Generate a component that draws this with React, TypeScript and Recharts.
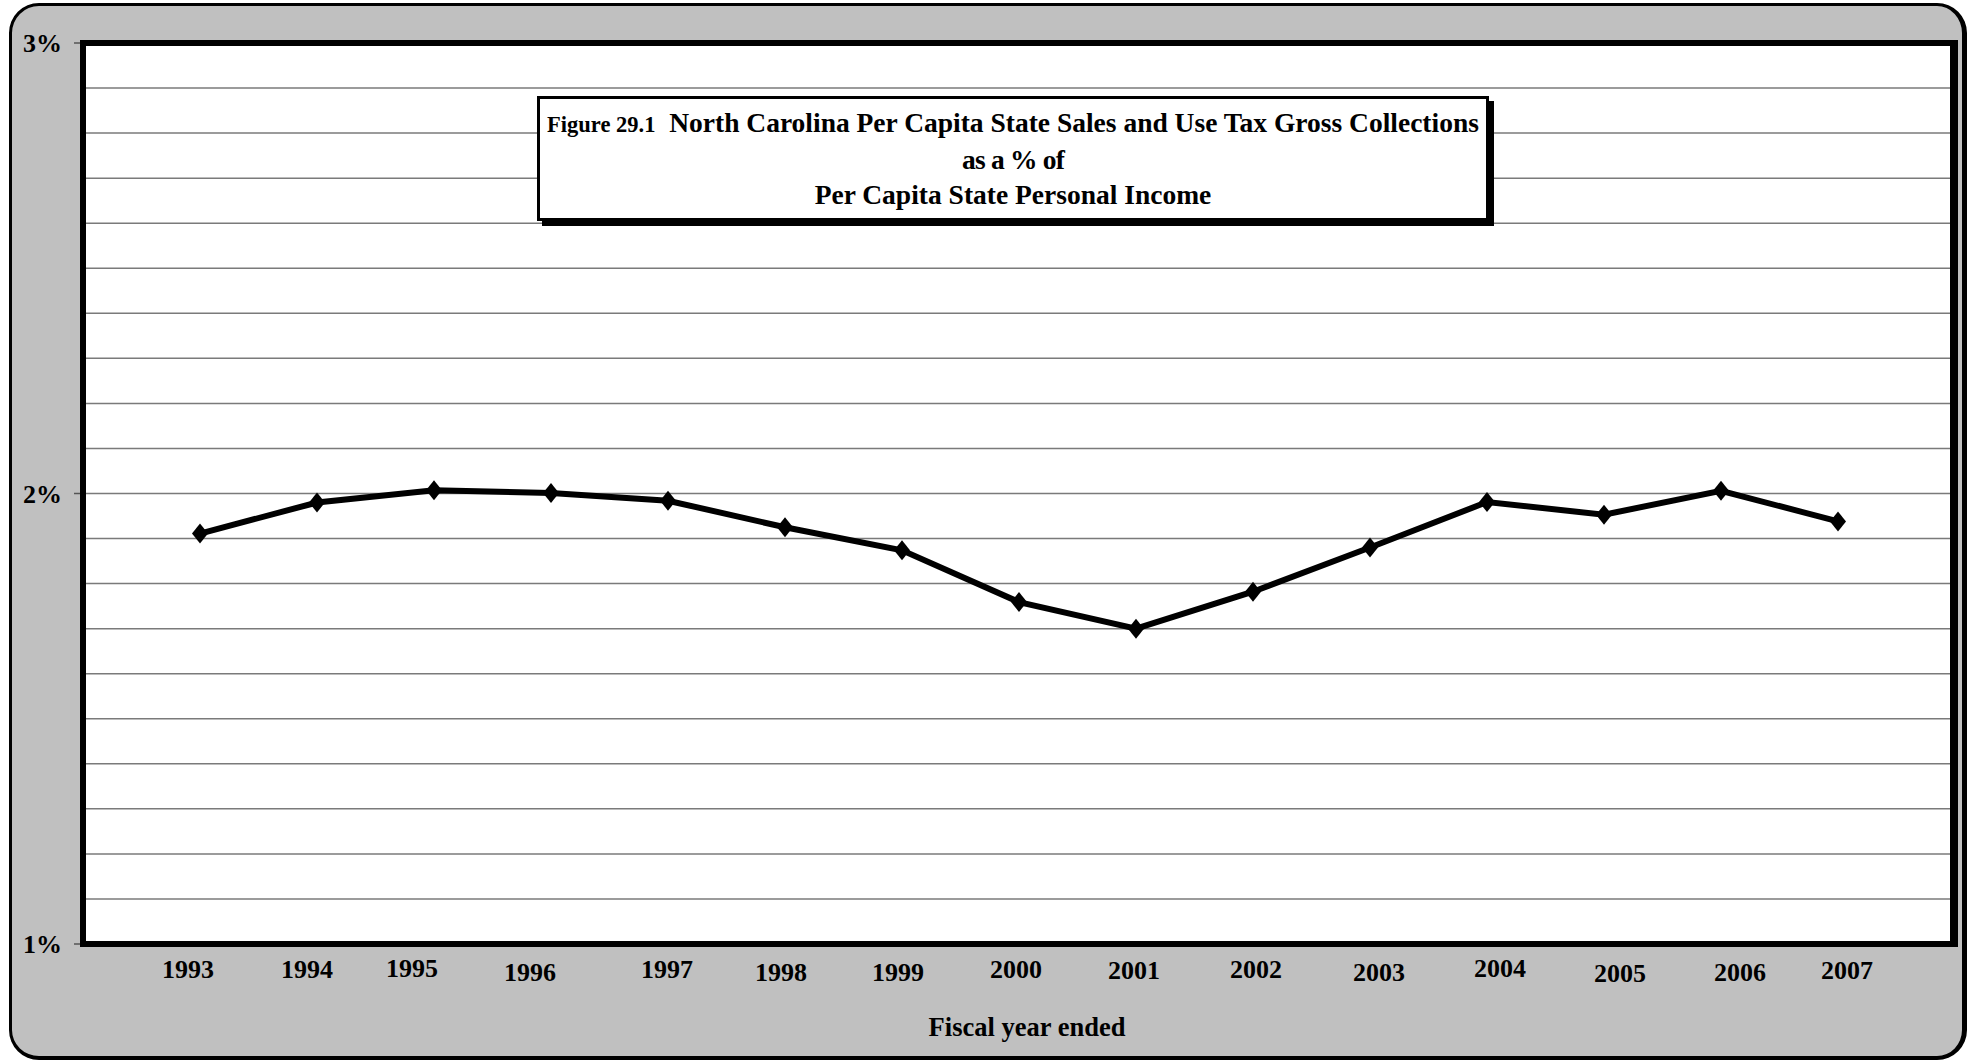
import React from 'react';
import { LineChart, Line, XAxis, YAxis, CartesianGrid } from 'recharts';

const YEARS = [1993, 1994, 1995, 1996, 1997, 1998, 1999, 2000, 2001, 2002, 2003, 2004, 2005, 2006, 2007];
const SALES_TAX_PCT = [1.911, 1.980, 2.007, 2.001, 1.984, 1.925, 1.874, 1.759, 1.700, 1.782, 1.880, 1.981, 1.953, 2.006, 1.938];
const Y_TICKS = [1, 2, 3];
const GRID_VALUES = [1.1, 1.2, 1.3, 1.4, 1.5, 1.6, 1.7, 1.8, 1.9, 2.0, 2.1, 2.2, 2.3, 2.4, 2.5, 2.6, 2.7, 2.8, 2.9];
const X_DOMAIN = [1992, 2008];

const FONT = '"Liberation Serif", "Times New Roman", serif';

// hand-placed year labels sit a little off their points
const TICK_NUDGE: Record<number, [number, number]> = {
  1993: [-12, 0], 1994: [-10, 0], 1995: [-22, -1], 1996: [-21, 3], 1997: [-1, 0],
  1998: [-4, 3], 1999: [-4, 3], 2000: [-3, 0], 2001: [-2, 1], 2002: [3, 0],
  2003: [9, 3], 2004: [13, -1], 2005: [16, 4], 2006: [19, 3], 2007: [9, 1],
};

const chartData = YEARS.map((year, i) => ({ year, pct: SALES_TAX_PCT[i] }));

const YearTick = (props: any) => {
  const { x, y, payload } = props;
  const [dx, dy] = TICK_NUDGE[payload.value] || [0, 0];
  return (
    <text x={x + dx} y={y + 34 + dy} textAnchor="middle" fontFamily={FONT} fontWeight="bold" fontSize={26} fill="#000">
      {payload.value}
    </text>
  );
};

const Diamond = (props: any) => {
  const { cx, cy } = props;
  if (cx == null || cy == null) return null;
  return <polygon points={`${cx},${cy - 10} ${cx + 8},${cy} ${cx},${cy + 10} ${cx - 8},${cy}`} fill="#000" />;
};

const AxisTitle = (props: any) => {
  const { viewBox } = props;
  return (
    <text x={viewBox.x + viewBox.width / 2 + 8} y={viewBox.y + 92} textAnchor="middle" fontFamily={FONT} fontWeight="bold" fontSize={26.5} fill="#000">
      Fiscal year ended
    </text>
  );
};

export default function App() {
  return (
    <div style={{ position: 'absolute', left: 0, top: 0, width: 1973, height: 1061, fontFamily: FONT }}>
      {/* rounded grey frame */}
      <div style={{
        position: 'absolute', left: 9, top: 3, width: 1958, height: 1057, boxSizing: 'border-box',
        background: '#c0c0c0', border: '3px solid #000', borderRightWidth: 5, borderBottomWidth: 4, borderRadius: 30,
      }} />
      <div style={{ position: 'absolute', left: 0, top: 0 }}>
        <LineChart width={1973} height={1061} data={chartData} margin={{ top: 43, right: 18, left: 0, bottom: 0 }}>
          <CartesianGrid vertical={false} horizontalValues={GRID_VALUES} stroke="#7a7a7a" strokeWidth={1.5} fill="#fff" fillOpacity={1} />
          <XAxis
            dataKey="year"
            type="number"
            domain={X_DOMAIN}
            ticks={YEARS}
            interval={0}
            height={117}
            axisLine={false}
            tickLine={false}
            tickSize={0}
            tickMargin={0}
            tick={<YearTick />}
            label={<AxisTitle />}
          />
          <YAxis
            domain={[1, 3]}
            ticks={Y_TICKS}
            width={83}
            axisLine={false}
            tickSize={9}
            tickMargin={12}
            tickLine={{ stroke: '#555', strokeWidth: 1.5 }}
            tickFormatter={(v: number) => `${v}%`}
            tick={{ fontFamily: FONT, fontWeight: 'bold', fontSize: 26, fill: '#000' }}
          />
          <Line
            type="linear"
            dataKey="pct"
            stroke="#000"
            strokeWidth={6}
            dot={<Diamond />}
            activeDot={false}
            isAnimationActive={false}
          />
        </LineChart>
      </div>
      {/* heavy plot border */}
      <div style={{
        position: 'absolute', left: 80, top: 40, width: 1878, height: 907, boxSizing: 'border-box',
        border: '6px solid #000', borderRightWidth: 8, pointerEvents: 'none',
      }} />
      {/* title box */}
      <div style={{
        position: 'absolute', left: 537, top: 96, width: 952, height: 125, boxSizing: 'border-box',
        border: '3px solid #000', boxShadow: '5px 5px 0 #000', background: '#fff',
        textAlign: 'center', fontWeight: 'bold', fontSize: 27.5, lineHeight: '35px', paddingTop: 6, color: '#000',
      }}>
        <div style={{ whiteSpace: 'nowrap' }}><span style={{ fontSize: 22.5 }}>Figure 29.1</span>&nbsp; North Carolina Per Capita State Sales and Use Tax Gross Collections</div>
        <div style={{ letterSpacing: -0.8 }}>as a % of</div>
        <div>Per Capita State Personal Income</div>
      </div>
    </div>
  );
}
